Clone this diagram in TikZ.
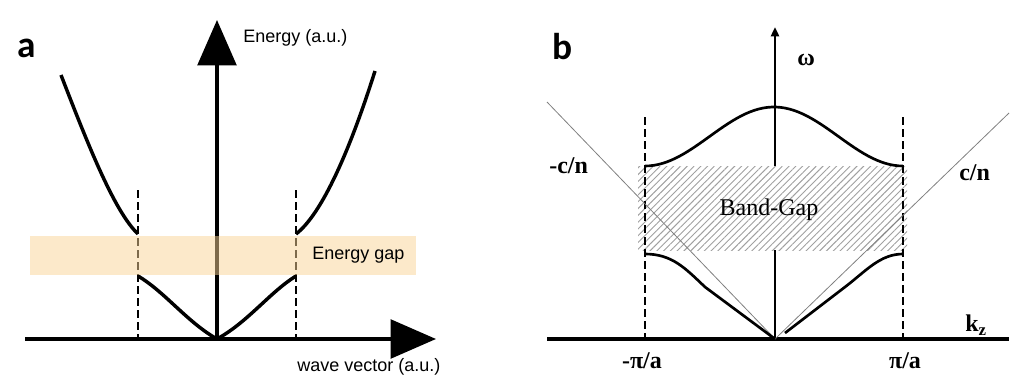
\documentclass[tikz,border=0pt]{standalone}
\usepackage{fontspec}
\setmainfont{Liberation Serif}
\newfontfamily\helv{Liberation Sans}
\newfontfamily\panelfont{Carlito}
\usepackage{xcolor}
\usetikzlibrary{arrows.meta}
\usetikzlibrary{patterns.meta}
\definecolor{gaporange}{RGB}{250,212,150}
\definecolor{hatchgray}{RGB}{160,160,160}

\begin{document}
\begin{tikzpicture}[x=0.75pt,y=-0.75pt,
  curve/.style={line width=2.6pt},
  zone/.style={dash pattern=on 6pt off 3pt, line width=0.8pt},
  bigtip/.style={-{Triangle[length=34pt,width=29pt]}, line width=2.6pt},
  lightline/.style={line width=0.6pt, gray},
  sanslbl/.style={font=\helv\fontsize{13.5}{16}\selectfont, inner sep=0pt},
  seriflbl/.style={font=\bfseries\fontsize{18}{20}\selectfont, inner sep=0pt},
  panellbl/.style={font=\panelfont\bfseries\fontsize{28}{30}\selectfont, inner sep=0pt}]
\useasboundingbox (0,0) rectangle (1024,385);

%%% panel a
\def\ox{217}%origin x
\def\oy{339}%origin y
\def\zl{138}%zone edge left
\def\zr{296}%zone edge right
\node[panellbl] (labela) at (27,48) {a};
\coordinate (oa) at (\ox,\oy);
\draw[bigtip] (25,\oy) -- (436,\oy) coordinate (kend);
\draw[bigtip] (oa) -- (\ox,20) coordinate (eend);
\foreach \x in {\zl,\zr}
  \draw[zone] (\x,190) -- (\x,\oy);
% bands
\draw[curve] (61,75) .. controls (90,150) and (115,212) .. (\zl,234);
\draw[curve] (\zr,234) .. controls (322,214) and (350,150) .. (375,71);
\draw[curve] (\zl,276) .. controls (165,292) and (187,322) .. (oa);
\draw[curve] (oa) .. controls (248,322) and (270,292) .. (\zr,276);
% gap
\fill[gaporange, fill opacity=0.5] (30,236) rectangle (416,275);
\node[sanslbl, anchor=west] (gaplbl) at (312,255) {Energy gap};
\node[sanslbl, anchor=west] (elbl) at (243,38) {Energy (a.u.)};
\node[sanslbl, anchor=west] (klbl) at (297,367) {wave vector (a.u.)};

%%% panel b
\def\bx{775}%origin x
\def\bl{645}%zone edge left
\def\br{903}%zone edge right
\node[panellbl] (labelb) at (563,47) {b};
\coordinate (ob) at (\bx,\oy);
\draw[line width=2.4pt] (547,\oy) -- (1009,\oy) coordinate (kzend);
\draw[line width=1.8pt] (ob) -- (\bx,250);
\draw[-{Triangle[length=7pt,width=6pt]}, line width=1.8pt] (\bx,166) -- (\bx,27) coordinate (wend);
% hatched gap
\fill[pattern={Lines[angle=45, distance=3.6pt, line width=0.7pt]}, pattern color=hatchgray] (638,166) rectangle (907,250);
\foreach \x in {\bl,\br}
  \draw[zone] (\x,117) -- (\x,\oy);
% light lines
\draw[lightline] (547,102) -- (ob) -- (1009,113);
% bands
\draw[line width=2pt] plot[domain=-1:1, samples=60] ({774+129*\x},{136.5-29.5*cos(180*\x)});
\draw[line width=2pt] (\bl,254) .. controls (672,254) and (685,268) .. (705,287) -- (ob);
\draw[line width=2pt] (785,333) -- (845,287) .. controls (866,271) and (880,254) .. (\br,254);
% labels
\node[font=\fontsize{18}{20}\selectfont, inner sep=0pt] (gaptxt) at (769,210) {Band-Gap};
\node[seriflbl, anchor=west] (wlbl) at (797,60) {ω};
\node[seriflbl, anchor=west] (mcn) at (549,166) {-c/n};
\node[seriflbl, anchor=west] (pcn) at (959,173) {c/n};
\node[seriflbl, anchor=west] (kz) at (965,325) {k\textsubscript{z}};
\node[seriflbl] (mpa) at (642,361) {-π/a};
\node[seriflbl] (ppa) at (905,361) {π/a};
\end{tikzpicture}
\end{document}
